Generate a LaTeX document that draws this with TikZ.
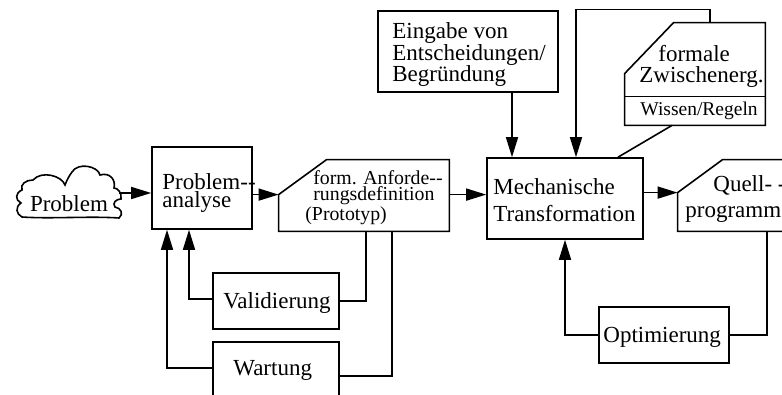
\documentclass[tikz,border=0pt]{standalone}
\usepackage{fontspec}
\setmainfont{Liberation Serif}
\usetikzlibrary{arrows.meta}
\begin{document}
\begin{tikzpicture}[x=0.5pt,y=-0.5pt,
  ln/.style={line width=0.8pt},
  box/.style={draw, line width=0.8pt, inner sep=0pt},
  frame/.style={inner sep=0pt},
  txt/.style={inner sep=0pt, align=left, font=\fontsize{11.5}{#1}\selectfont},
  txt/.default=10.5,
  arr/.style={ln, -{Triangle[length=10pt,width=6pt]}},
]
\clip (0,0) rectangle (782,395);
\fill[white] (0,0) rectangle (782,395);

% cloud
\draw[ln] (22,217) .. controls (50,219) and (90,216) .. (119,218)
 .. controls (124,214) and (121,208) .. (115,207)
 .. controls (112,203) and (116,199) .. (121,199)
 .. controls (122,193) and (118,188) .. (114,188)
 .. controls (116,180) and (110,172) .. (100,175)
 .. controls (98,166) and (78,162) .. (72,172)
 .. controls (69,176) and (67,180) .. (65,185)
 .. controls (62,176) and (42,170) .. (33,180)
 .. controls (26,180) and (20,184) .. (22,190)
 .. controls (15,193) and (15,200) .. (21,203)
 .. controls (15,207) and (16,214) .. (22,217) -- cycle;
\node[txt] (prob) at (69,204) {Problem};
\coordinate (cloudR) at (119,193);

% boxes
\node[box, minimum width=50pt, minimum height=41pt] (pa) at (202,188) {};
\node[txt=9, anchor=base west] (pat) at (162,208) {Problem-\rlap{-}\\analyse};

\node[frame, minimum width=85pt, minimum height=35.5pt] (anf) at (364,195.5) {};
\draw[ln] ([xshift=24pt]anf.north west) -- (anf.north east) -- (anf.south east)
  -- (anf.south west) -- ([yshift=-17.5pt]anf.north west) -- cycle;
\coordinate (anfL) at ([yshift=-17.5pt]anf.north west);
\node[inner sep=0pt, align=left, font=\fontsize{9.9}{8}\selectfont, anchor=base west] (anft) at (313,221)
  {form. Anforde-\rlap{-}\\rungsdefinition\\\hspace*{-4pt}(Prototyp)};

\node[box, minimum width=78pt, minimum height=40.5pt] (mech) at (565,198.5) {};
\node[txt=13.5, anchor=base west] (mecht) at (493,222) {Mechanische\\Transformation};

\node[frame, minimum width=76pt, minimum height=35.5pt] (quell) at (754,195.5) {};
\draw[ln] ([xshift=22.5pt]quell.north west) -- (quell.north east) -- (quell.south east)
  -- (quell.south west) -- ([yshift=-16.5pt]quell.north west) -- cycle;
\coordinate (quellL) at ([yshift=-16.5pt]quell.north west);
\node[txt=13, anchor=base west] (quellt) at (685,218) {\hspace*{14pt}Quell- -\\programm};

\node[box, minimum width=90pt, minimum height=40.5pt] (eing) at (468,51.5) {};
\node[txt=10.75, anchor=base west] (eingt) at (392,82) {Eingabe von\\Entscheidungen/\\Begründung};

\node[frame, minimum width=70pt, minimum height=51pt] (form) at (695,74) {};
\draw[ln] ([xshift=24.5pt]form.north west) -- (form.north east) -- (form.south east)
  -- (form.south west) -- ([yshift=-25.5pt]form.north west) -- cycle;
\draw[ln] ([yshift=14.5pt]form.south west) -- ([yshift=14.5pt]form.south east);
\node[txt=10.5, anchor=base west] (formt) at (639,83) {\hspace*{9.5pt}formale\\Zwischenerg.};
\node[inner sep=0pt, font=\fontsize{9.75}{10}\selectfont, anchor=base west] (wisst) at (640,116) {Wissen/Regeln};

\node[box, minimum width=63pt, minimum height=28pt] (val) at (276,301) {};
\node[txt, anchor=base west] (valt) at (223,309) {Validierung};

\node[box, minimum width=63pt, minimum height=28pt] (wart) at (276,370) {};
\node[txt, anchor=base west] (wartt) at (233,376) {Wartung};

\node[box, minimum width=65pt, minimum height=28pt] (opt) at (664,335) {};
\node[txt, anchor=base west] (optt) at (603,343) {Optimierung};

% connectors
\draw[arr] (cloudR) -- (cloudR -| pa.west);
\draw[arr] (anfL -| pa.east) -- (anfL);
\draw[arr] (anfL -| anf.east) -- (anfL -| mech.west);
\draw[arr] (quellL -| mech.east) -- (quellL);
\draw[arr] ([xshift=22pt]eing.south) -- ([xshift=22pt]eing.south |- mech.north);
\draw[arr] ([xshift=7.5pt]form.north) -- ++(0,-13) -| ([xshift=5.5pt]mech.north);
\draw[ln] ([xshift=-11.5pt]form.south) -- ([xshift=26.5pt]mech.north);
\draw[arr] ([yshift=1pt]val.west) -| ([xshift=-6.5pt]pa.south);
\draw[arr] ([yshift=1pt]wart.west) -| ([xshift=-17.5pt]pa.south);
\draw[ln] (val.east) -| ([xshift=1pt]anf.south);
\draw[ln] ([yshift=-3pt]wart.east) -| ([xshift=14pt]anf.south);
\draw[arr] (opt.west) -| (mech.south);
\draw[ln] (opt.east) -| ([xshift=6.5pt]quell.south);
\end{tikzpicture}
\end{document}
